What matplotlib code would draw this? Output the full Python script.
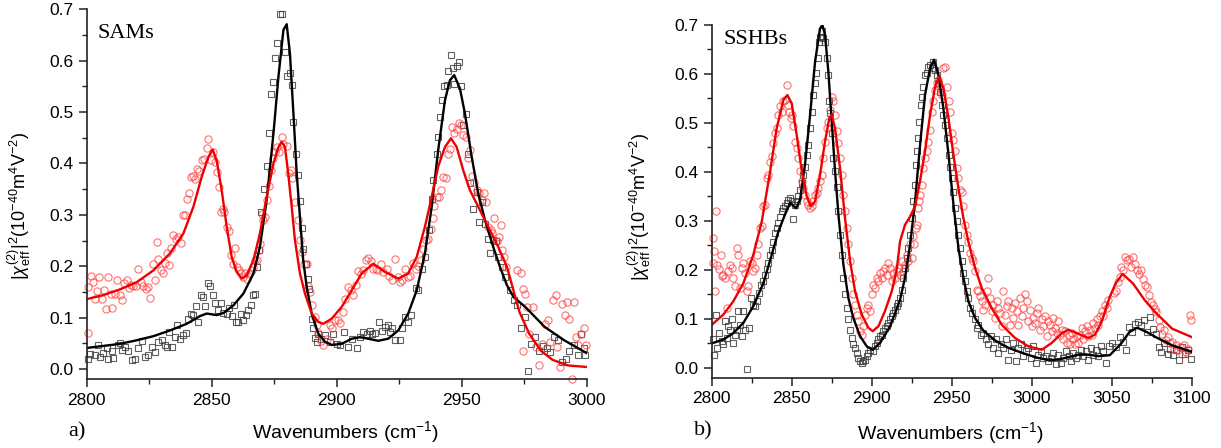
import matplotlib
matplotlib.use('Agg')
import matplotlib.pyplot as plt
from matplotlib.ticker import MultipleLocator
import numpy as np

## ---- panel a) SAMs : fitted curves ----
a_fit_black_x = [2800, 2813.3, 2820, 2826.7, 2833.3, 2840, 2845.3, 2848, 2852, 2854.7, 2858.7,
                 2862.7, 2866.7, 2869.3, 2872, 2874.7, 2876.7, 2878.7, 2880, 2881.3, 2882.7,
                 2884, 2885.3, 2886.6, 2888, 2890, 2892.6, 2895.3, 2898, 2902, 2906, 2909.3,
                 2912.6, 2916.6, 2920.6, 2924.6, 2928.6, 2932, 2935.3, 2938, 2940.6, 2943.3,
                 2945.3, 2947, 2949.3, 2951.3, 2954, 2956.6, 2959.3, 2962.6, 2965.3, 2968.1,
                 2970.8, 2975.4, 2983.2, 2991, 3000]
a_fit_black_y = [0.041, 0.049, 0.056, 0.064, 0.075, 0.088, 0.103, 0.108, 0.105, 0.109, 0.124,
                 0.147, 0.186, 0.238, 0.329, 0.458, 0.569, 0.660, 0.671, 0.614, 0.497,
                 0.381, 0.296, 0.212, 0.160, 0.108, 0.069, 0.053, 0.047, 0.049, 0.059, 0.062,
                 0.059, 0.055, 0.059, 0.075, 0.108, 0.153, 0.225, 0.316, 0.426, 0.523,
                 0.562, 0.572, 0.546, 0.497, 0.413, 0.342, 0.290, 0.238, 0.199, 0.163,
                 0.140, 0.121, 0.082, 0.056, 0.031]
a_fit_red_x = [2800, 2806.7, 2813.3, 2820, 2826.7, 2833.3, 2838.7, 2842.7, 2846, 2848.7, 2850.4,
               2852, 2854, 2856, 2858, 2860, 2862, 2864, 2866.7, 2869.3, 2872, 2874.7, 2876.7,
               2878, 2879.3, 2880.6, 2882, 2883.3, 2885.3, 2887.3, 2890, 2892.6, 2894.6, 2898,
               2902, 2906, 2910, 2914.6, 2919.3, 2924.6, 2928.6, 2932, 2935.3, 2938, 2940.6,
               2943.3, 2945.7, 2948, 2950.6, 2953.3, 2956.6, 2960.6, 2964.6, 2968.1, 2973.1,
               2977, 2981.6, 2986.3, 2992.5, 3000]
a_fit_red_y = [0.136, 0.144, 0.155, 0.169, 0.192, 0.225, 0.264, 0.316, 0.374, 0.413, 0.427,
               0.406, 0.348, 0.277, 0.218, 0.189, 0.176, 0.182, 0.212, 0.264, 0.335, 0.400, 0.432,
               0.442, 0.432, 0.381, 0.316, 0.251, 0.186, 0.147, 0.108, 0.092, 0.088, 0.098,
               0.121, 0.153, 0.186, 0.205, 0.189, 0.176, 0.186, 0.218, 0.277, 0.335, 0.394,
               0.432, 0.449, 0.432, 0.387, 0.348, 0.316, 0.277, 0.238, 0.199, 0.111,
               0.069, 0.036, 0.018, 0.007, 0.004]

## ---- panel a) measured points ----
a_sq_x = [2800.7, 2801.3, 2803.3, 2804.7, 2805.3, 2806.7, 2808, 2808.7, 2810, 2810.7, 2812.7, 2813.3,
          2814, 2815.3, 2816.7, 2818, 2819.3, 2820.7, 2822, 2823.3, 2824.7, 2826, 2827.3, 2828.7,
          2830, 2831.3, 2832, 2833, 2834, 2835.3, 2836.3, 2837.3, 2838.7, 2839.7, 2840.7, 2841.6,
          2842.7, 2843.7, 2844.7, 2845.6, 2846.4, 2847.3, 2848.7, 2849.3, 2850.4, 2851.3, 2852.4,
          2853.6, 2854.7, 2856, 2857, 2858, 2859, 2859.7, 2860.7, 2861.6, 2862.7, 2863.7, 2864.7,
          2865.7, 2866.4, 2867.3, 2868.3, 2869, 2869.7, 2870.9, 2872, 2873, 2873.7, 2874.7, 2875.3,
          2876.3, 2877.3, 2878, 2879.3, 2880.3, 2881.3, 2882, 2882.6, 2883.6, 2884.4, 2885.3, 2886,
          2886.6, 2887.6, 2888.4, 2888.9, 2890, 2890.6, 2891.3, 2892, 2892.6, 2893.7, 2895.3, 2897.3,
          2898.6, 2900, 2901.3, 2903, 2904.6, 2906, 2908, 2909.3, 2910.6, 2912, 2913.3, 2914.2,
          2915.3, 2916.9, 2918, 2919.3, 2920.4, 2921.3, 2922.2, 2923.3, 2925.3, 2926, 2927.3, 2928.4,
          2929.7, 2931.6, 2932.6, 2934.2, 2935.3, 2936.9, 2938.2, 2938.6, 2940, 2940.6, 2941.4,
          2942.2, 2943, 2944, 2944.6, 2945.7, 2946.6, 2947, 2948, 2948.9, 2949.7, 2950.6, 2951.6,
          2952.4, 2953.3, 2954.6, 2956, 2956.9, 2958, 2959.3, 2960.4, 2961.3, 2962.6, 2963.6, 2964.6,
          2966, 2967.3, 2969.2, 2970.8, 2972.3, 2973.9, 2975.4, 2976.7, 2977.8, 2979.3, 2980.9,
          2982.4, 2984, 2985.5, 2987.1, 2988.6, 2990.2, 2991.8, 2993, 2994.9, 2996.4, 2997.7,
          2998.8, 2999.5]
a_sq_y = [0.020, 0.030, 0.028, 0.047, 0.023, 0.032, 0.040, 0.020, 0.036, 0.021, 0.046, 0.051,
          0.038, 0.043, 0.036, 0.018, 0.020, 0.040, 0.055, 0.023, 0.027, 0.042, 0.033, 0.053,
          0.056, 0.046, 0.043, 0.072, 0.043, 0.062, 0.085, 0.059, 0.067, 0.070, 0.097, 0.108,
          0.105, 0.122, 0.092, 0.145, 0.141, 0.122, 0.168, 0.162, 0.144, 0.129, 0.114,
          0.129, 0.109, 0.108, 0.118, 0.103, 0.124, 0.092, 0.092, 0.108, 0.096, 0.105, 0.114,
          0.124, 0.145, 0.147, 0.199, 0.231, 0.306, 0.351, 0.395, 0.460, 0.535, 0.559, 0.605,
          0.635, 0.691, 0.691, 0.616, 0.570, 0.577, 0.553, 0.481, 0.418, 0.377, 0.327, 0.275,
          0.234, 0.205, 0.176, 0.156, 0.098, 0.079, 0.061, 0.053, 0.069, 0.059, 0.066, 0.053,
          0.069, 0.049, 0.046, 0.072, 0.043, 0.059, 0.040, 0.062, 0.072, 0.069, 0.075, 0.068,
          0.070, 0.092, 0.075, 0.082, 0.085, 0.072, 0.079, 0.057, 0.057, 0.079, 0.101, 0.092,
          0.105, 0.158, 0.153, 0.195, 0.219, 0.270, 0.330, 0.368, 0.419, 0.451, 0.491,
          0.523, 0.551, 0.553, 0.580, 0.611, 0.585, 0.554, 0.590, 0.598, 0.551, 0.475, 0.497,
          0.418, 0.362, 0.312, 0.345, 0.286, 0.325, 0.283, 0.254, 0.225, 0.252, 0.249, 0.218,
          0.199, 0.179, 0.153, 0.134, 0.124, 0.079, 0.101, -0.003, 0.049, 0.062, 0.036,
          0.044, 0.040, 0.033, 0.062, 0.056, 0.014, 0.020, 0.036, 0.046, 0.027, 0.069,
          0.040, 0.027]
a_ci_x = [2800.7, 2800.7, 2801.6, 2802.4, 2803.3, 2804.3, 2805, 2806, 2806.9, 2807.7, 2808.7, 2809.6,
          2810.3, 2811.3, 2812.3, 2813.3, 2814.3, 2815.1, 2816, 2817, 2817.7, 2818.7, 2819.6, 2820.7,
          2821.6, 2822.7, 2823.7, 2824.7, 2825.3, 2826.4, 2827.3, 2828, 2828.7, 2829.6, 2830.4,
          2831.3, 2832, 2832.8, 2833.6, 2834.7, 2835.7, 2836.7, 2837.6, 2838.7, 2839.3, 2840,
          2840.8, 2841.6, 2842.4, 2843.3, 2844, 2845, 2846, 2846.9, 2848, 2848.7, 2849.6, 2850.4,
          2851.3, 2852.1, 2852.9, 2853.6, 2854.4, 2855, 2856, 2856.8, 2857.6, 2858.4, 2859.3, 2860,
          2861, 2861.6, 2862.4, 2863.3, 2864.3, 2865, 2866, 2866.7, 2867.5, 2868.3, 2868.9, 2869.3,
          2870, 2870.7, 2871.3, 2872.3, 2872.9, 2873.7, 2874.7, 2875.3, 2876.3, 2877, 2878, 2878.7,
          2880, 2880.9, 2881.7, 2882.2, 2883.3, 2884.4, 2885.3, 2886.2, 2887, 2888, 2888.6, 2889.3,
          2890.2, 2891.3, 2892.1, 2892.6, 2893.7, 2894.6, 2896, 2897.3, 2898.2, 2899.3, 2900.4,
          2901.3, 2902.6, 2903.3, 2904.6, 2905.6, 2906.5, 2907.6, 2908.6, 2909.7, 2910.6, 2911.7,
          2912.6, 2913.7, 2914.6, 2915.6, 2916.6, 2917.7, 2918.6, 2920, 2920.9, 2922, 2923.3,
          2924.4, 2925.3, 2926.2, 2927.3, 2928.4, 2929.3, 2930.6, 2931.6, 2932.6, 2933.7, 2934.6,
          2935.6, 2936.6, 2937.6, 2938.4, 2939, 2940, 2940.9, 2941.7, 2942.6, 2943.6, 2944.4,
          2945.3, 2946.2, 2947, 2948, 2948.9, 2949.7, 2950.6, 2951.6, 2952.4, 2953.3, 2954.2, 2955,
          2956, 2956.9, 2958, 2958.9, 2959.7, 2960.6, 2961.6, 2962.2, 2963, 2964, 2964.9, 2965.7,
          2966.2, 2967.1, 2967.7, 2972.3, 2973.6, 2974.6, 2975.4, 2976.2, 2974.6, 2977, 2978.5,
          2979.8, 2980.9, 2982, 2983.2, 2984.4, 2985.5, 2986.6, 2987.6, 2988.3, 2989.4, 2990.2,
          2991.3, 2992.2, 2992.8, 2994.1, 2994.9, 2995.6, 2996.7, 2997.7, 2998.8, 2999.8]
a_ci_y = [0.070, 0.160, 0.181, 0.169, 0.137, 0.152, 0.179, 0.137, 0.153, 0.116, 0.179, 0.147,
          0.119, 0.147, 0.174, 0.145, 0.134, 0.168, 0.173, 0.158, 0.163, 0.161, 0.161, 0.194,
          0.169, 0.161, 0.156, 0.160, 0.138, 0.204, 0.174, 0.247, 0.214, 0.193, 0.186,
          0.206, 0.225, 0.202, 0.235, 0.260, 0.254, 0.257, 0.245, 0.299, 0.299, 0.330,
          0.343, 0.374, 0.376, 0.369, 0.390, 0.386, 0.406, 0.408, 0.431, 0.447, 0.406, 0.423,
          0.403, 0.384, 0.355, 0.306, 0.312, 0.306, 0.277, 0.269, 0.221, 0.205, 0.236, 0.199,
          0.192, 0.187, 0.179, 0.186, 0.176, 0.184, 0.192, 0.199, 0.212, 0.212, 0.231, 0.243,
          0.301, 0.290, 0.296, 0.329, 0.357, 0.387, 0.410, 0.423, 0.432, 0.423, 0.451, 0.438,
          0.434, 0.381, 0.387, 0.371, 0.325, 0.290, 0.251, 0.228, 0.205, 0.204, 0.161, 0.150,
          0.124, 0.101, 0.085, 0.070, 0.055, 0.046, 0.059, 0.085, 0.079, 0.095, 0.096,
          0.090, 0.111, 0.137, 0.160, 0.153, 0.144, 0.164, 0.190, 0.184, 0.192, 0.212,
          0.217, 0.210, 0.194, 0.195, 0.192, 0.204, 0.189, 0.194, 0.182, 0.173, 0.215,
          0.179, 0.169, 0.173, 0.195, 0.179, 0.182, 0.206, 0.195, 0.200, 0.212, 0.234,
          0.251, 0.254, 0.273, 0.293, 0.318, 0.335, 0.334, 0.349, 0.373, 0.372, 0.419,
          0.429, 0.471, 0.460, 0.468, 0.479, 0.475, 0.455, 0.452, 0.410, 0.426, 0.375, 0.364,
          0.349, 0.343, 0.329, 0.343, 0.325, 0.277, 0.270, 0.264, 0.293, 0.249, 0.257, 0.280,
          0.231, 0.218, 0.199, 0.192, 0.187, 0.156, 0.147, 0.121, 0.036, 0.069, 0.121,
          0.043, 0.007, 0.049, 0.088, 0.095, 0.053, 0.134, 0.144, 0.043, 0.004, 0.127,
          0.105, 0.131, 0.098, -0.019, 0.131, 0.062, 0.046, 0.069, 0.079, 0.046]

## ---- panel b) SSHBs : fitted curves ----
b_fit_black_x = [2800, 2807.3, 2813.5, 2819.8, 2826, 2832.3, 2837.5, 2841.7, 2845.8, 2849, 2852.7,
                 2855.2, 2858.3, 2861.5, 2864.6, 2867.7, 2869.2, 2870.8, 2872.9, 2875, 2877.1,
                 2879.2, 2882.3, 2885.4, 2888.5, 2892.7, 2896.9, 2900.6, 2905.2, 2911.5, 2914.6,
                 2917.7, 2920.8, 2924, 2927.1, 2930.2, 2933.3, 2936.5, 2939, 2941.7, 2944.8, 2948,
                 2951.1, 2954.2, 2957.3, 2960.4, 2964.6, 2969.8, 2977.1, 2985.4, 2993.8, 3002.1,
                 3010.4, 3016.7, 3023, 3029.2, 3035.4, 3041.7, 3048.8, 3056, 3061, 3065.9, 3072,
                 3078, 3087.8, 3100]
b_fit_black_y = [0.050, 0.058, 0.071, 0.092, 0.126, 0.173, 0.231, 0.279, 0.313, 0.337, 0.326,
                 0.343, 0.415, 0.517, 0.625, 0.693, 0.700, 0.680, 0.605, 0.503, 0.401,
                 0.313, 0.211, 0.143, 0.102, 0.065, 0.044, 0.037, 0.051, 0.085, 0.112,
                 0.139, 0.184, 0.252, 0.340, 0.455, 0.557, 0.612, 0.629, 0.598, 0.530, 0.435,
                 0.333, 0.245, 0.184, 0.136, 0.102, 0.076, 0.056, 0.041, 0.031, 0.022,
                 0.016, 0.017, 0.022, 0.027, 0.027, 0.024, 0.026, 0.050, 0.073, 0.082, 0.073,
                 0.062, 0.046, 0.033]
b_fit_red_x = [2800, 2807.3, 2813.5, 2819.8, 2826, 2831.3, 2836.5, 2840.6, 2844.8, 2847.3, 2850,
               2853.1, 2856.3, 2859.4, 2861.9, 2864.6, 2867.7, 2870.8, 2873.5, 2875, 2877.1,
               2880.2, 2883.3, 2886.5, 2889.6, 2893.8, 2897.9, 2900.6, 2904.2, 2908.3, 2912.5,
               2915.6, 2917.7, 2920.8, 2924, 2927.1, 2930.2, 2933.3, 2936.5, 2939.6, 2942.3,
               2944.8, 2948, 2951.1, 2954.2, 2957.3, 2960.4, 2964.6, 2968.8, 2975, 2981.3,
               2989.6, 2997.9, 3006.3, 3012.5, 3018.8, 3023, 3028.1, 3035.4, 3039.6, 3043.8,
               3048.8, 3052.4, 3056.8, 3063.4, 3070.7, 3078, 3087.8, 3100]
b_fit_red_y = [0.088, 0.109, 0.136, 0.173, 0.231, 0.299, 0.401, 0.489, 0.547, 0.557, 0.540,
               0.476, 0.401, 0.350, 0.330, 0.340, 0.394, 0.462, 0.510, 0.517, 0.489,
               0.408, 0.306, 0.218, 0.156, 0.109, 0.082, 0.075, 0.085, 0.116, 0.156,
               0.200, 0.258, 0.292, 0.309, 0.330, 0.381, 0.442, 0.517, 0.574, 0.595,
               0.571, 0.510, 0.435, 0.367, 0.306, 0.258, 0.204, 0.163, 0.122, 0.088,
               0.061, 0.044, 0.037, 0.051, 0.071, 0.078, 0.071, 0.061, 0.068, 0.095,
               0.145, 0.172, 0.192, 0.172, 0.138, 0.111, 0.080, 0.063]

## ---- panel b) measured points ----
b_sq_x = [2801, 2801.5, 2802.7, 2803.5, 2804.8, 2806.3, 2807.3, 2808.3, 2809.4, 2810.4, 2811.5,
          2812.5, 2813.1, 2814.6, 2815.6, 2816.7, 2817.7, 2818.8, 2819.8, 2820.8, 2822.3, 2823.5,
          2824.6, 2825.6, 2827.1, 2828.1, 2829.6, 2830.8, 2831.9, 2833.3, 2834.4, 2835.4, 2836.5,
          2837.5, 2838.5, 2839.6, 2840.6, 2841.7, 2842.7, 2843.8, 2844.8, 2845.8, 2846.9, 2847.9,
          2849, 2850, 2851, 2852.1, 2853.1, 2854.2, 2855.2, 2856.3, 2857.3, 2858.3, 2859.4, 2860.4,
          2861.5, 2862.5, 2863.5, 2864.6, 2865.2, 2866.3, 2866.9, 2867.7, 2868.8, 2869.8, 2870.8,
          2871.9, 2872.5, 2873.5, 2874, 2875, 2876, 2877.1, 2878.1, 2879.2, 2880.2, 2881.3, 2882.3,
          2883.3, 2884.4, 2885.4, 2886.5, 2887.5, 2888.5, 2889.6, 2890.6, 2891.7, 2892.7, 2893.8,
          2894.8, 2895.8, 2896.9, 2897.9, 2899, 2900.6, 2902.1, 2903.1, 2904.2, 2905.2, 2906.3,
          2907.3, 2908.3, 2909.4, 2910.4, 2911.5, 2912.5, 2913.5, 2914.6, 2915.6, 2916.7, 2917.7,
          2918.8, 2919.8, 2920.8, 2921.9, 2922.9, 2924, 2925, 2926, 2927.1, 2927.5, 2928.1, 2929.2,
          2929.6, 2930.8, 2931.7, 2932.3, 2933.3, 2934.4, 2935.4, 2936.5, 2937.5, 2938.6, 2939.6,
          2940.6, 2941.7, 2942.7, 2943.8, 2944.8, 2945.9, 2946.9, 2948, 2949, 2950, 2951.1, 2952.1,
          2953.1, 2954.2, 2955.2, 2956.3, 2957.3, 2958.3, 2959.4, 2960.4, 2961.5, 2962.9, 2964.6,
          2965.6, 2966.7, 2968.3, 2969.8, 2971.3, 2972.9, 2974.6, 2976, 2977.5, 2979.2, 2980.9,
          2982.3, 2983.8, 2985.4, 2987.1, 2988.5, 2990, 2991.7, 2993.3, 2994.8, 2996.3, 2997.9,
          2999.6, 3001, 3002.7, 3004.2, 3005.8, 3007.3, 3008.8, 3010.4, 3012.1, 3013.6, 3015,
          3016.7, 3018.3, 3019.8, 3021.3, 3023, 3024.6, 3026, 3027.5, 3029.2, 3030.8, 3032.3,
          3033.8, 3035.4, 3037.1, 3038.5, 3040, 3041.7, 3043.3, 3044.8, 3046.3, 3048, 3050, 3052.4,
          3054.9, 3057.3, 3059, 3061, 3062.9, 3064.6, 3066.3, 3068.3, 3070.2, 3072, 3073.7, 3075.6,
          3077.6, 3079.3, 3081, 3082.9, 3084.9, 3086.6, 3088.3, 3090.2, 3092.2, 3093.9, 3095.6,
          3097.6, 3099.5]
b_sq_y = [0.058, 0.027, 0.109, 0.041, 0.071, 0.054, 0.048, 0.095, 0.061, 0.085, 0.078,
          0.099, 0.051, 0.068, 0.078, 0.116, 0.088, 0.065, 0.116, 0.078, -0.003, 0.082,
          0.143, 0.129, 0.126, 0.136, 0.153, 0.170, 0.177, 0.190, 0.201, 0.214, 0.231,
          0.241, 0.258, 0.275, 0.286, 0.296, 0.309, 0.320, 0.326, 0.330, 0.337, 0.343,
          0.347, 0.340, 0.303, 0.333, 0.340, 0.350, 0.364, 0.377, 0.394, 0.411, 0.435, 0.455,
          0.489, 0.523, 0.557, 0.581, 0.602, 0.632, 0.666, 0.676, 0.687, 0.673, 0.666,
          0.632, 0.598, 0.544, 0.520, 0.479, 0.428, 0.401, 0.370, 0.320, 0.272, 0.231, 0.184,
          0.150, 0.122, 0.099, 0.078, 0.061, 0.048, 0.041, 0.031, 0.020, 0.014, 0.010,
          0.014, 0.017, 0.024, 0.031, 0.037, 0.034, 0.044, 0.051, 0.058, 0.065, 0.068,
          0.075, 0.082, 0.085, 0.092, 0.099, 0.105, 0.112, 0.119, 0.126, 0.133, 0.143,
          0.160, 0.184, 0.204, 0.224, 0.245, 0.272, 0.306, 0.340, 0.374, 0.415, 0.442, 0.469,
          0.503, 0.537, 0.554, 0.574, 0.598, 0.602, 0.615, 0.619, 0.612, 0.625, 0.608,
          0.598, 0.581, 0.564, 0.537, 0.517, 0.496, 0.469, 0.435, 0.411, 0.387, 0.360, 0.326,
          0.299, 0.272, 0.245, 0.218, 0.194, 0.177, 0.156, 0.143, 0.122, 0.112, 0.099,
          0.082, 0.088, 0.068, 0.071, 0.058, 0.048, 0.065, 0.041, 0.058, 0.031, 0.048,
          0.041, 0.058, 0.017, 0.037, 0.051, 0.014, 0.041, 0.048, 0.024, 0.034, 0.041,
          0.020, 0.044, 0.010, 0.027, 0.034, 0.020, 0.024, 0.014, 0.020, 0.031, 0.007,
          0.027, 0.010, 0.020, 0.034, 0.024, 0.014, 0.031, 0.020, 0.027, 0.037, 0.024,
          0.034, 0.017, 0.041, 0.027, 0.037, 0.024, 0.044, 0.034, 0.010, 0.044, 0.050, 0.043,
          0.063, 0.053, 0.036, 0.084, 0.073, 0.090, 0.094, 0.087, 0.097, 0.073, 0.104, 0.080,
          0.070, 0.043, 0.033, 0.050, 0.029, 0.039, 0.026, 0.036, 0.016, 0.043, 0.029,
          0.036, 0.019]
b_ci_x = [2800.6, 2801, 2801.5, 2802.1, 2802.7, 2803.5, 2804.8, 2805.6, 2806.3, 2807.3, 2808.3,
          2809.4, 2810.4, 2811.5, 2812.5, 2813.5, 2814.6, 2815.6, 2816.7, 2817.7, 2818.8, 2819.8,
          2820.8, 2821.9, 2822.9, 2824, 2825, 2826, 2827.1, 2828.1, 2829.2, 2830.2, 2831.3, 2832.3,
          2833.3, 2834.4, 2835.4, 2836.5, 2837.5, 2838.5, 2839.6, 2840.6, 2841.7, 2842.7, 2843.8,
          2844.8, 2845.8, 2846.9, 2847.5, 2848.5, 2849.4, 2850.2, 2851, 2852.1, 2853.1, 2854.2,
          2855.2, 2856.3, 2857.3, 2858.3, 2859.4, 2860.4, 2861.5, 2862.5, 2863.5, 2864.6, 2865.6,
          2866.7, 2867.7, 2868.8, 2869.8, 2870.8, 2871.9, 2872.9, 2874, 2875, 2876, 2877.1, 2878.1,
          2879.2, 2880.2, 2881.3, 2882.3, 2883.3, 2884.4, 2885.4, 2886.5, 2887.5, 2888.5, 2889.6,
          2890.6, 2891.7, 2892.7, 2893.8, 2894.8, 2895.8, 2896.9, 2897.9, 2899, 2900, 2901, 2902.1,
          2903.1, 2904.2, 2905.2, 2906.3, 2907.3, 2908.3, 2909.4, 2910.4, 2911.5, 2912.5, 2913.5,
          2914.6, 2915.6, 2916.7, 2917.7, 2918.8, 2919.8, 2920.8, 2921.9, 2922.9, 2924, 2925, 2926,
          2926.7, 2927.5, 2928.1, 2929.2, 2929.6, 2930.2, 2931.3, 2932.3, 2933.3, 2934.4, 2935.4,
          2936.5, 2937.5, 2938.6, 2939.6, 2940.6, 2941.7, 2942.7, 2943.8, 2944.8, 2945.9, 2946.9,
          2948, 2949, 2950, 2951.1, 2952.1, 2953.1, 2954.2, 2955.2, 2956.3, 2957.3, 2958.3, 2959.4,
          2960.4, 2961.5, 2962.5, 2963.5, 2964.6, 2965.6, 2966.7, 2967.7, 2968.8, 2969.8, 2970.8,
          2971.9, 2972.9, 2974, 2975, 2976, 2977.1, 2978.1, 2979.2, 2980.2, 2981.3, 2982.3, 2983.3,
          2984.4, 2985.4, 2986.5, 2987.5, 2988.5, 2989.6, 2990.6, 2991.7, 2992.7, 2993.8, 2994.8,
          2995.8, 2996.9, 2997.9, 2999, 3000, 3001.1, 3002.1, 3003.1, 3004.2, 3005.2, 3006.3,
          3007.3, 3008.3, 3009.4, 3010.4, 3011.5, 3012.5, 3013.6, 3014.6, 3015.6, 3016.7, 3017.7,
          3018.8, 3019.8, 3020.8, 3021.9, 3023, 3024, 3025, 3026.1, 3027.1, 3028.1, 3029.2, 3030.2,
          3031.3, 3032.3, 3033.3, 3034.4, 3035.4, 3036.5, 3037.5, 3038.5, 3039.6, 3040.6, 3041.7,
          3042.7, 3043.8, 3044.8, 3045.8, 3046.9, 3047.9, 3051.2, 3052.4, 3053.7, 3054.9, 3056.1,
          3057.3, 3058.5, 3059.8, 3061, 3062.2, 3063.4, 3064.6, 3065.9, 3067.1, 3068.3, 3069.5,
          3070.7, 3072, 3073.2, 3074.4, 3075.6, 3076.8, 3078, 3079.3, 3080.5, 3081.7, 3082.9,
          3084.1, 3085.4, 3086.6, 3087.8, 3089, 3090.2, 3091.5, 3092.7, 3093.9, 3095.1, 3096.3,
          3097.6, 3098.8, 3099.5]
b_ci_y = [0.214, 0.265, 0.238, 0.156, 0.320, 0.211, 0.201, 0.231, 0.187, 0.190, 0.184,
          0.122, 0.197, 0.211, 0.204, 0.184, 0.167, 0.245, 0.231, 0.163, 0.204, 0.214,
          0.194, 0.156, 0.167, 0.218, 0.214, 0.197, 0.204, 0.231, 0.252, 0.286, 0.289, 0.330,
          0.333, 0.387, 0.394, 0.421, 0.432, 0.459, 0.479, 0.489, 0.517, 0.534, 0.523,
          0.544, 0.547, 0.578, 0.537, 0.523, 0.510, 0.517, 0.493, 0.462, 0.449, 0.428,
          0.401, 0.381, 0.367, 0.353, 0.340, 0.333, 0.326, 0.330, 0.340, 0.353, 0.357,
          0.367, 0.381, 0.394, 0.428, 0.462, 0.489, 0.503, 0.527, 0.554, 0.544, 0.517, 0.483,
          0.459, 0.428, 0.394, 0.353, 0.320, 0.286, 0.252, 0.218, 0.184, 0.150, 0.129,
          0.109, 0.095, 0.075, 0.068, 0.085, 0.109, 0.122, 0.129, 0.116, 0.150, 0.170, 0.163,
          0.184, 0.177, 0.194, 0.184, 0.197, 0.204, 0.190, 0.214, 0.204, 0.177, 0.194,
          0.184, 0.197, 0.204, 0.190, 0.218, 0.197, 0.211, 0.231, 0.218, 0.252, 0.224, 0.269,
          0.252, 0.286, 0.292, 0.326, 0.340, 0.353, 0.374, 0.408, 0.428, 0.442, 0.462,
          0.486, 0.523, 0.544, 0.568, 0.581, 0.588, 0.571, 0.557, 0.612, 0.615, 0.574,
          0.544, 0.523, 0.479, 0.466, 0.442, 0.408, 0.387, 0.364, 0.360, 0.330, 0.292, 0.272,
          0.258, 0.235, 0.224, 0.218, 0.197, 0.160, 0.156, 0.146, 0.136, 0.119, 0.129,
          0.156, 0.184, 0.143, 0.116, 0.129, 0.102, 0.136, 0.122, 0.112, 0.085, 0.156, 0.109,
          0.126, 0.136, 0.088, 0.122, 0.102, 0.133, 0.116, 0.088, 0.143, 0.105, 0.122,
          0.150, 0.136, 0.095, 0.119, 0.085, 0.102, 0.092, 0.112, 0.122, 0.078, 0.099,
          0.085, 0.105, 0.065, 0.095, 0.088, 0.075, 0.102, 0.082, 0.071, 0.095, 0.068,
          0.078, 0.058, 0.075, 0.051, 0.068, 0.048, 0.071, 0.058, 0.048, 0.065, 0.051, 0.068,
          0.082, 0.058, 0.075, 0.085, 0.065, 0.078, 0.068, 0.092, 0.082, 0.099, 0.088,
          0.105, 0.116, 0.105, 0.129, 0.122, 0.139, 0.152, 0.158, 0.175, 0.186, 0.206,
          0.199, 0.226, 0.220, 0.223, 0.206, 0.226, 0.213, 0.199, 0.192, 0.199, 0.182,
          0.169, 0.165, 0.148, 0.135, 0.128, 0.121, 0.114, 0.097, 0.084, 0.070, 0.077,
          0.056, 0.063, 0.050, 0.053, 0.039, 0.046, 0.036, 0.043, 0.029, 0.046, 0.033,
          0.039, 0.107, 0.097]

plt.rcParams['font.family'] = ['Liberation Sans', 'DejaVu Sans']
plt.rcParams['mathtext.fontset'] = 'custom'
plt.rcParams['mathtext.rm'] = 'Liberation Sans'
plt.rcParams['mathtext.it'] = 'Liberation Sans:italic'

fig = plt.figure(figsize=(12.21, 4.48), dpi=100)
ax1 = fig.add_axes([0.0710, 0.1533, 0.4095, 0.8259])
ax2 = fig.add_axes([0.5829, 0.1569, 0.3931, 0.7873])

ylab = r'$|\chi^{(2)}_{\rm eff}|^2(10^{-40}{\rm m}^4{\rm V}^{-2})$'
xlab = r'Wavenumbers (cm$^{-1}$)'


def style_axes(ax, xmin, xmax):
  ax.set_xlim(xmin, xmax)
  ax.set_ylim(-0.02, 0.7)
  ax.xaxis.set_major_locator(MultipleLocator(50))
  ax.xaxis.set_minor_locator(MultipleLocator(25))
  ax.yaxis.set_major_locator(MultipleLocator(0.1))
  ax.yaxis.set_minor_locator(MultipleLocator(0.05))
  ax.yaxis.set_major_formatter(matplotlib.ticker.FormatStrFormatter('%.1f'))
  ax.spines['top'].set_visible(False)
  ax.spines['right'].set_visible(False)
  for s in ('left', 'bottom'):
    ax.spines[s].set_linewidth(1.2)
    ax.spines[s].set_color('#222222')
  ax.tick_params(which='major', direction='out', length=6, width=1.1, labelsize=12.5,
                 colors='#222222', labelcolor='black')
  ax.tick_params(which='minor', direction='out', length=3.5, width=1.0, colors='#222222')
  ax.set_ylabel(ylab, fontsize=13)
  ax.set_xlabel(xlab, fontsize=14)


sq_kw = dict(ls='none', marker='s', ms=4.2, mfc='none', mec='#3a3a3a', mew=0.8, alpha=0.8)
ci_kw = dict(ls='none', marker='o', ms=5.2, mfc='none', mec='#ff4040', mew=0.8, alpha=0.75)

ax1.plot(a_sq_x, a_sq_y, clip_on=False, **sq_kw)
ax1.plot(a_ci_x, a_ci_y, clip_on=False, **ci_kw)
ax1.plot(a_fit_black_x, a_fit_black_y, color='black', lw=1.7)
ax1.plot(a_fit_red_x, a_fit_red_y, color='#ee0000', lw=1.7)
style_axes(ax1, 2800, 3000)
ax1.yaxis.set_label_coords(-0.107, 0.47)
ax1.xaxis.set_label_coords(0.517, -0.108)
ax1.text(0.022, 0.96, 'SAMs', transform=ax1.transAxes, fontsize=16,
         family='Liberation Serif', va='top', ha='left')
fig.text(0.063, 0.036, 'a)', fontsize=16, family='Liberation Serif', ha='center', va='center')

ax2.plot(b_sq_x, b_sq_y, clip_on=False, **sq_kw)
ax2.plot(b_ci_x, b_ci_y, clip_on=False, **ci_kw)
ax2.plot(b_fit_black_x, b_fit_black_y, color='black', lw=1.7)
ax2.plot(b_fit_red_x, b_fit_red_y, color='#ee0000', lw=1.7)
style_axes(ax2, 2800, 3100)
ax2.yaxis.set_label_coords(-0.122, 0.484)
ax2.xaxis.set_label_coords(0.497, -0.12)
ax2.text(0.024, 0.985, 'SSHBs', transform=ax2.transAxes, fontsize=16,
         family='Liberation Serif', va='top', ha='left')
fig.text(0.576, 0.038, 'b)', fontsize=16, family='Liberation Serif', ha='center', va='center')

fig.savefig('out.png', dpi=100)
